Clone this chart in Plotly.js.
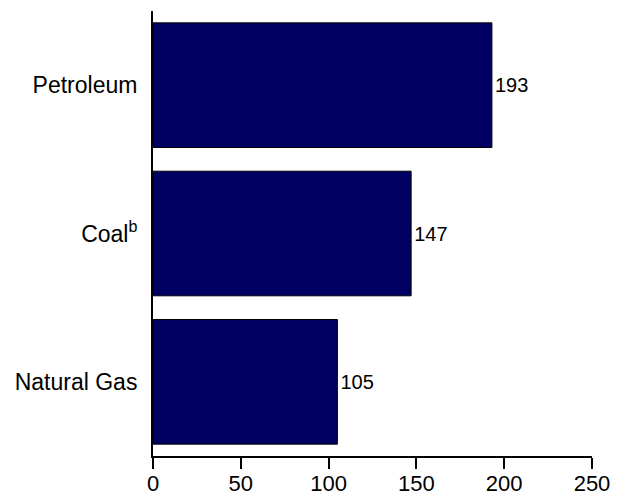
<!DOCTYPE html>
<html>
<head>
<meta charset="utf-8">
<script src="https://cdn.plot.ly/plotly-3.0.1.min.js"></script>
<style>html,body{margin:0;padding:0;background:#fff;}#chart{width:626px;height:497px;}</style>
</head>
<body>
<div id="chart"></div>
<script>
// Data (bottom to top)
const categories = ['Natural Gas', 'Coal<sup>b</sup>', 'Petroleum'];
const values = [105, 147, 193];
const valueLabels = ['105', '147', '193'];
const xTickVals = [0, 50, 100, 150, 200, 250];

const trace = {
  type: 'bar',
  orientation: 'h',
  y: categories,
  x: values,
  text: valueLabels,
  textposition: 'outside',
  cliponaxis: false,
  textfont: {family: 'Liberation Sans, Arial, sans-serif', size: 20, color: '#000'},
  marker: {color: 'rgb(0,0,98)', line: {color: '#000', width: 1}},
  width: 0.84,
  hoverinfo: 'none'
};

const layout = {
  width: 626, height: 497,
  margin: {l: 153, r: 34, t: 11, b: 41, pad: 0},
  paper_bgcolor: '#fff', plot_bgcolor: '#fff',
  font: {family: 'Liberation Sans, Arial, sans-serif', size: 23, color: '#000'},
  showlegend: false,
  bargap: 0.16,
  xaxis: {
    range: [0, 250], tickvals: xTickVals, ticktext: xTickVals.map(String),
    showgrid: false, zeroline: false,
    showline: true, linecolor: '#000', linewidth: 2,
    ticks: 'outside', ticklen: 11, tickwidth: 2, tickcolor: '#000',
    ticklabelstandoff: -4,
    tickfont: {size: 22},
    fixedrange: true
  },
  yaxis: {
    type: 'category', range: [-0.5, 2.5],
    showgrid: false, zeroline: false,
    showline: true, linecolor: '#000', linewidth: 2,
    ticks: '', ticklabelstandoff: 9,
    tickfont: {size: 23},
    fixedrange: true
  }
};

Plotly.newPlot('chart', [trace], layout, {staticPlot: true, displayModeBar: false});
</script>
</body>
</html>
